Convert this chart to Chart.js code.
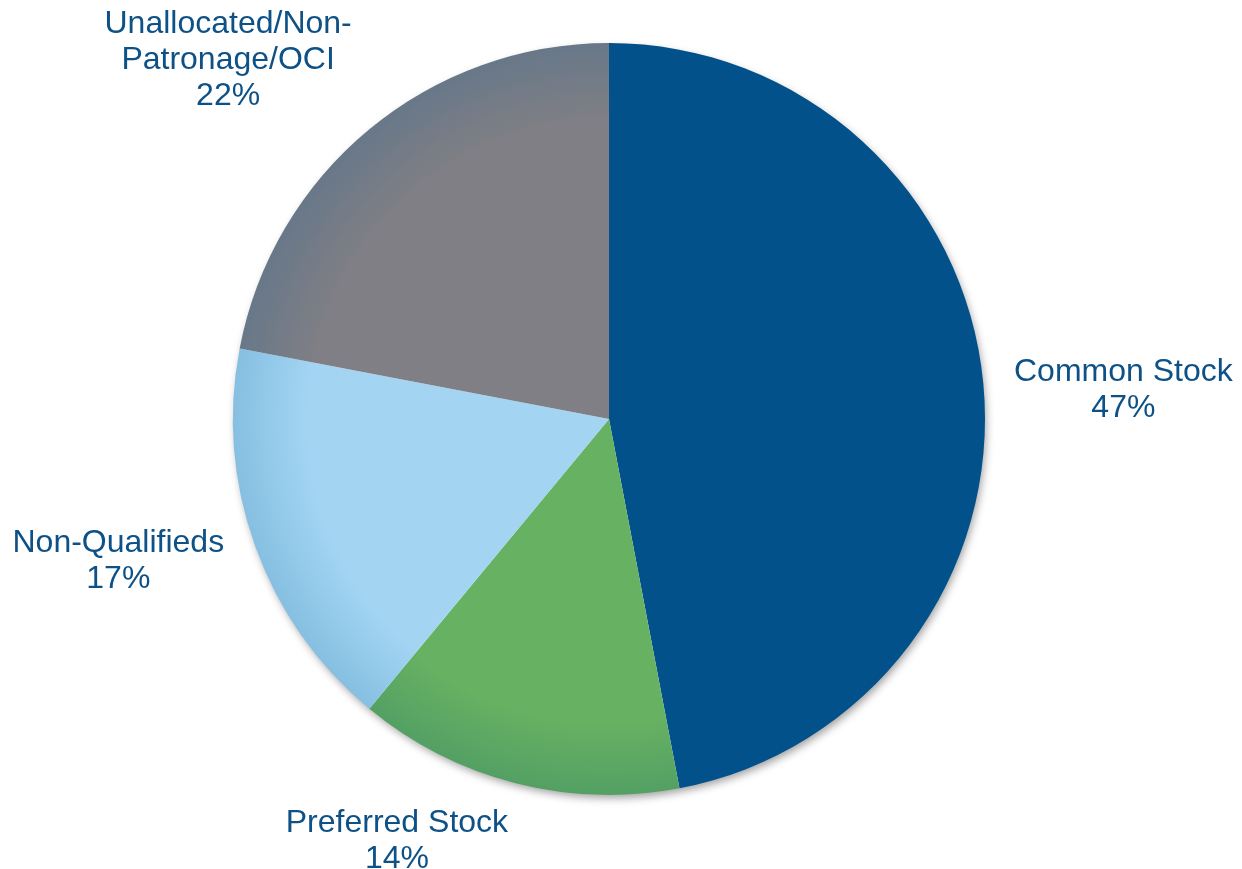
<!DOCTYPE html>
<html>
<head>
<meta charset="utf-8">
<title>Capital Composition</title>
<script src="https://cdn.jsdelivr.net/npm/chart.js@4/dist/chart.umd.min.js"></script>
<style>
  html, body { margin: 0; padding: 0; background: #ffffff; }
  canvas { display: block; }
</style>
</head>
<body>
<canvas id="pie" width="1242" height="869"></canvas>
<script>
// Share of total capital by component (percent)
const categories = ['Common Stock', 'Preferred Stock', 'Non-Qualifieds', ['Unallocated/Non-', 'Patronage/OCI']];
const shares = [47, 14, 17, 22];

// Slice fills: flat body colour and the slightly darker rim tone
const bodyColors = ['#02518A', '#67B262', '#A3D5F3', '#7F7F85'];
const rimColors  = ['#02518A', '#54A064', '#86BFE1', '#687889'];

// Where each label block sits, as multiples of the pie radius from its centre
const labelOffsets = [[1.368, -0.082], [-0.564, 1.117], [-1.305, 0.372], [-1.013, -0.960]];

function pieGeometry(chart) {
  const ca = chart.chartArea;
  return {
    cx: (ca.left + ca.right) / 2,
    cy: (ca.top + ca.bottom) / 2,
    r: Math.min(ca.right - ca.left, ca.bottom - ca.top) / 2
  };
}

function sliceFill(ctx) {
  const i = ctx.dataIndex;
  const chart = ctx.chart;
  if (!chart.chartArea) return bodyColors[i];
  const { cx, cy, r } = pieGeometry(chart);
  const g = chart.ctx.createRadialGradient(cx, cy, 0, cx, cy, r);
  g.addColorStop(0, bodyColors[i]);
  g.addColorStop(0.8, bodyColors[i]);
  g.addColorStop(1, rimColors[i]);
  return g;
}

// Soft drop shadow under the whole disc
const pieShadow = {
  id: 'pieShadow',
  beforeDatasetsDraw(chart) {
    const arc = chart.getDatasetMeta(0).data[0];
    if (!arc) return;
    const { x, y, outerRadius } = arc.getProps(['x', 'y', 'outerRadius'], true);
    const c = chart.ctx;
    c.save();
    c.shadowColor = 'rgba(0,0,0,0.38)';
    c.shadowBlur = 9;
    c.shadowOffsetX = 2;
    c.shadowOffsetY = 4;
    c.beginPath();
    c.arc(x, y, outerRadius - 1, 0, Math.PI * 2);
    c.fillStyle = '#ffffff';
    c.fill();
    c.restore();
  }
};

// Category name plus percentage, placed outside each slice
const sliceLabels = {
  id: 'sliceLabels',
  afterDatasetsDraw(chart, args, opts) {
    const meta = chart.getDatasetMeta(0);
    const values = chart.data.datasets[0].data;
    const c = chart.ctx;
    c.save();
    c.font = opts.fontSize + 'px ' + opts.fontFamily;
    c.fillStyle = opts.color;
    c.textAlign = 'center';
    c.textBaseline = 'alphabetic';
    meta.data.forEach((arc, i) => {
      const { x, y, outerRadius } = arc.getProps(['x', 'y', 'outerRadius'], true);
      const name = chart.data.labels[i];
      const lines = (Array.isArray(name) ? name.slice() : [name]);
      lines.push(values[i] + '%');
      const ax = x + opts.offsets[i][0] * outerRadius;
      const ay = y + opts.offsets[i][1] * outerRadius;
      const n = lines.length;
      lines.forEach((line, k) => {
        const by = ay + 11 + (k - (n - 1) / 2) * opts.lineHeight;
        c.fillText(line, ax, by);
      });
    });
    c.restore();
  }
};

new Chart(document.getElementById('pie'), {
  type: 'pie',
  data: {
    labels: categories,
    datasets: [{
      data: shares,
      backgroundColor: sliceFill,
      borderWidth: 0,
      hoverOffset: 0
    }]
  },
  options: {
    responsive: false,
    animation: false,
    devicePixelRatio: 1,
    layout: { padding: { left: 233, right: 257, top: 43, bottom: 74 } },
    plugins: {
      legend: { display: false },
      tooltip: { enabled: false },
      sliceLabels: {
        offsets: labelOffsets,
        fontSize: 32,
        lineHeight: 36,
        fontFamily: '"Liberation Sans", Arial, sans-serif',
        color: '#0E5186'
      }
    }
  },
  plugins: [pieShadow, sliceLabels]
});
</script>
</body>
</html>
